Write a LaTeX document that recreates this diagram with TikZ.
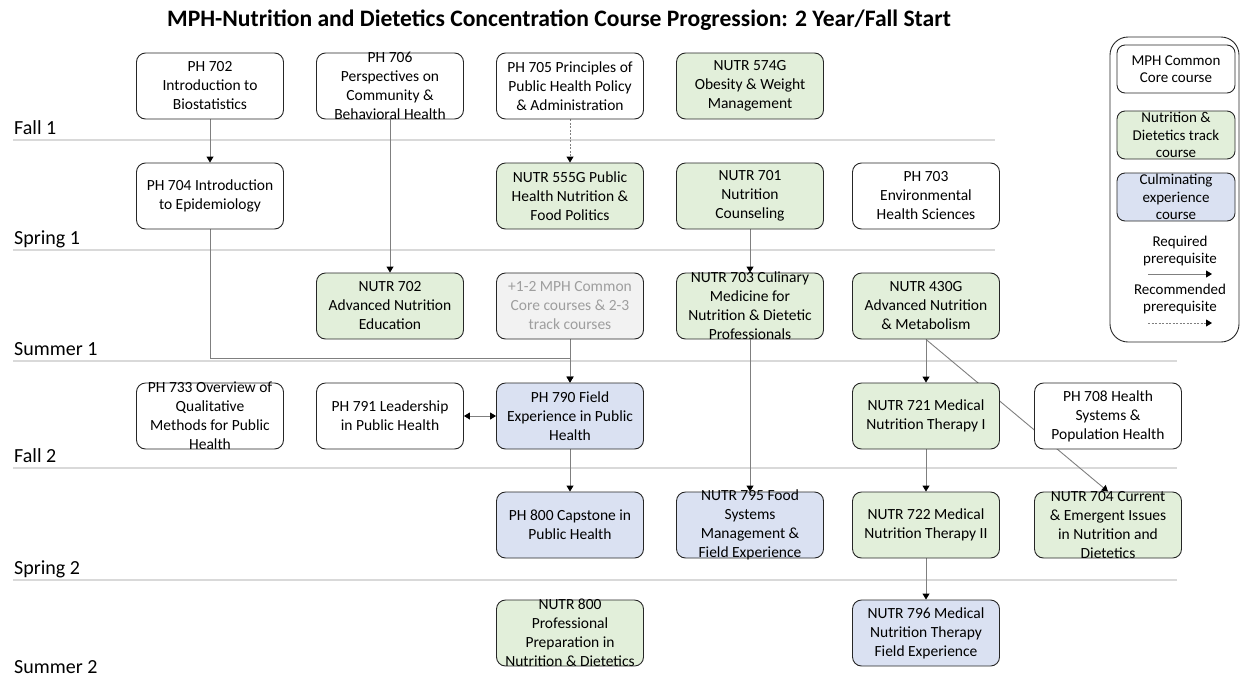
\documentclass[tikz,border=0pt]{standalone}
\usepackage{fontspec}
\setmainfont{Carlito}
\usetikzlibrary{arrows.meta,backgrounds}
\definecolor{trackgreen}{HTML}{E2EFDA}
\definecolor{culmblue}{HTML}{DAE1F2}
\definecolor{sepgray}{HTML}{D9D9D9}
\definecolor{linegray}{HTML}{7F7F7F}
\tikzset{
  course/.style={draw=black!85, line width=0.9pt, rounded corners=9pt, minimum width=147pt, minimum height=66pt, inner xsep=2pt, inner ysep=-4pt, align=center, font=\fontsize{15.5}{19}\selectfont},
  core/.style={course, fill=white},
  track/.style={course, fill=trackgreen},
  culm/.style={course, fill=culmblue},
  other/.style={course, fill=black!5, text=black!38},
  keybox/.style={course, minimum width=118pt, minimum height=48pt, rounded corners=8pt, font=\fontsize{15}{17.5}\selectfont},
  keytext/.style={align=center, font=\fontsize{15}{17.5}\selectfont},
  term/.style={anchor=base west, inner sep=0pt, font=\fontsize{20}{24}\selectfont},
  sep/.style={draw=sepgray, line width=1.8pt},
  req/.style={draw=linegray, line width=0.9pt, -{Triangle[width=7pt,length=6pt,color=black]}},
  rec/.style={req, dash pattern=on 2pt off 1.5pt},
  both/.style={draw=linegray, line width=0.9pt, {Triangle[width=7pt,length=6pt,color=black]}-{Triangle[width=7pt,length=6pt,color=black]}}
}
\begin{document}
\begin{tikzpicture}[x=1pt, y=-1pt]
  \useasboundingbox (0,0) rectangle (1242,683);
  \node[font=\fontsize{23.6}{28}\bfseries] (title) at (559,20) {MPH-Nutrition and Dietetics Concentration Course Progression: 2 Year/Fall Start};

  \node[term] (fall1) at (14,134) {Fall 1};
  \node[term] (spring1) at (14,244) {Spring 1};
  \node[term] (summer1) at (14,355) {Summer 1};
  \node[term] (fall2) at (14,462) {Fall 2};
  \node[term] (spring2) at (14,574) {Spring 2};
  \node[term] (summer2) at (14,673) {Summer 2};

  \node[core] (ph702) at (210,86) {PH 702\\Introduction to\\Biostatistics};
  \node[core] (ph706) at (390,86) {PH 706\\Perspectives on\\Community \&\\Behavioral Health};
  \node[core] (ph705) at (570,86) {PH 705 Principles of\\Public Health Policy\\\& Administration};
  \node[track] (nutr574) at (750,86) {NUTR 574G\\Obesity \& Weight\\Management};

  \node[core] (ph704) at (210,196) {PH 704 Introduction\\to Epidemiology};
  \node[track] (nutr555) at (570,196) {NUTR 555G Public\\Health Nutrition \&\\Food Politics};
  \node[track] (nutr701) at (750,196) {NUTR 701\\Nutrition\\Counseling};
  \node[core] (ph703) at (926,196) {PH 703\\Environmental\\Health Sciences};

  \node[track] (nutr702) at (390,306) {NUTR 702\\Advanced Nutrition\\Education};
  \node[other] (extra) at (570,306) {+1-2 MPH Common\\Core courses \& 2-3\\track courses};
  \node[track] (nutr703) at (750,306) {NUTR 703 Culinary\\Medicine for\\Nutrition \& Dietetic\\Professionals};
  \node[track] (nutr430) at (926,306) {NUTR 430G\\Advanced Nutrition\\\& Metabolism};

  \node[core] (ph733) at (210,416) {PH 733 Overview of\\Qualitative\\Methods for Public\\Health};
  \node[core] (ph791) at (390,416) {PH 791 Leadership\\in Public Health};
  \node[culm] (ph790) at (570,416) {PH 790 Field\\Experience in Public\\Health};
  \node[track] (nutr721) at (926,416) {NUTR 721 Medical\\Nutrition Therapy I};
  \node[core] (ph708) at (1108,416) {PH 708 Health\\Systems \&\\Population Health};

  \node[culm] (ph800) at (570,525) {PH 800 Capstone in\\Public Health};
  \node[culm] (nutr795) at (750,525) {NUTR 795 Food\\Systems\\Management \&\\Field Experience};
  \node[track] (nutr722) at (926,525) {NUTR 722 Medical\\Nutrition Therapy II};
  \node[track] (nutr704) at (1108,525) {NUTR 704 Current\\\& Emergent Issues\\in Nutrition and\\Dietetics};

  \node[track] (nutr800) at (570,633) {NUTR 800\\Professional\\Preparation in\\Nutrition \& Dietetics};
  \node[culm] (nutr796) at (926,633) {NUTR 796 Medical\\Nutrition Therapy\\Field Experience};

  \node[draw=black!85, line width=0.9pt, rounded corners=18pt, minimum width=129pt, minimum height=305pt] (legend) at (1174.5,189.5) {};
  \node[keybox, fill=white] (keycore) at (1176,69) {MPH Common\\Core course};
  \node[keybox, fill=trackgreen] (keytrack) at (1176,135) {Nutrition \&\\Dietetics track\\course};
  \node[keybox, fill=culmblue] (keyculm) at (1176,197) {Culminating\\experience\\course};
  \node[keytext] (keyreq) at (1180,251) {Required\\prerequisite};
  \node[keytext] (keyrec) at (1180,299) {Recommended\\prerequisite};
  \coordinate (reqa) at (1148,274);
  \coordinate (reqb) at (1212,274);
  \coordinate (reca) at (1148,323);
  \coordinate (recb) at (1212,323);
  \coordinate (join) at (570,358);
  \draw[req] (reqa) -- (reqb);
  \draw[rec] (reca) -- (recb);

  \begin{scope}[on background layer]
    \draw[sep] (13,140) -- (995,140);
    \draw[sep] (13,250) -- (995,250);
    \draw[sep] (13,361) -- (1177,361);
    \draw[sep] (13,468) -- (1177,468);
    \draw[sep] (13,580) -- (1177,580);
    \draw[req] (ph702) -- (ph704);
    \draw[req] (ph706) -- (nutr702);
    \draw[rec] (ph705) -- (nutr555);
    \draw[req] (nutr701) -- (nutr703);
    \draw[draw=linegray, line width=0.9pt] (ph704.south) |- (join);
    \draw[req] (join) -- (ph790);
    \draw[req] (extra) -- (ph790);
    \draw[both] (ph791) -- (ph790);
    \draw[req] (ph790) -- (ph800);
    \draw[req] (nutr703) -- (nutr795);
    \draw[req] (nutr430) -- (nutr721);
    \draw[req] (nutr430.south) -- (nutr704.north);
    \draw[req] (nutr721) -- (nutr722);
    \draw[req] (nutr722) -- (nutr796);
  \end{scope}
\end{tikzpicture}
\end{document}
